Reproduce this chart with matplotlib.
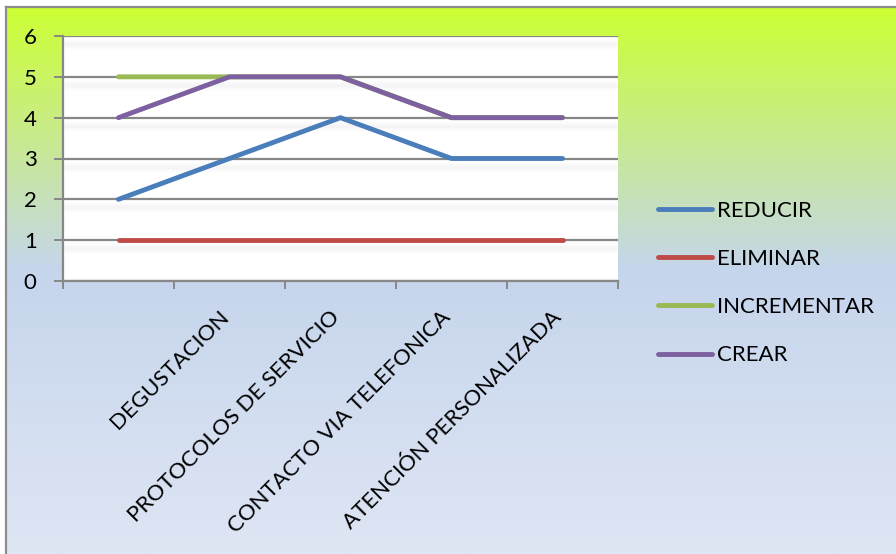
import numpy as np
import matplotlib
matplotlib.use("Agg")
import matplotlib.pyplot as plt
from matplotlib.colors import LinearSegmentedColormap
from matplotlib.transforms import ScaledTranslation

# --- datos ---
categorias = ["", "DEGUSTACION", "PROTOCOLOS DE SERVICIO",
              "CONTACTO VIA TELEFONICA", "ATENCIÓN PERSONALIZADA"]
reducir = [2, 3, 4, 3, 3]
eliminar = [1, 1, 1, 1, 1]
incrementar = [5, 5, 5, 4, 4]
crear = [4, 5, 5, 4, 4]

series = [("REDUCIR", reducir, "#4A7EBB"),
          ("ELIMINAR", eliminar, "#BE4B48"),
          ("INCREMENTAR", incrementar, "#98B954"),
          ("CREAR", crear, "#7D60A0")]

plt.rcParams["font.family"] = ["Lato", "DejaVu Sans"]
FS = 16
GRIS = "#878787"

W, H = 896, 554
fig = plt.figure(figsize=(W / 100, H / 100), dpi=100)
fig.patch.set_facecolor("white")

# --- fondo degradado con borde ---
bg = fig.add_axes([0, 0, 1, 1], zorder=-10)
bg.set_xlim(0, W)
bg.set_ylim(H, 0)
bg.axis("off")
cmap = LinearSegmentedColormap.from_list(
    "fondo", [(0.0, "#CCFF33"), (0.48, "#C5D5EC"), (1.0, "#DFE6F4")])
grad = np.linspace(0, 1, 400).reshape(-1, 1)
bg.imshow(grad, cmap=cmap, aspect="auto", extent=[6, W, H, 7.5], zorder=0)
bg.plot([5.8, 5.8], [6.5, H], color="#8C8C8C", lw=1.6, zorder=1)
bg.plot([5.8, W], [6.5, 6.5], color="#8C8C8C", lw=1.6, zorder=1)

# --- area de trazado ---
ax = fig.add_axes([63 / W, 1 - 281 / H, (618 - 63) / W, (281 - 36) / H])
ax.set_facecolor("white")
x = np.arange(len(categorias))
ax.set_xlim(-0.5, len(categorias) - 0.5)
ax.set_ylim(0, 6)
ax.set_yticks(range(0, 7))

# sombra difusa bajo cada linea de division
for gy in range(1, 7):
    for d in range(-6, 7):
        off = ScaledTranslation(0, -(8 + d) / 100, fig.dpi_scale_trans)
        ax.plot([-0.49, len(categorias) - 0.51], [gy, gy],
                transform=ax.transData + off, color="black",
                alpha=0.03 * np.exp(-d ** 2 / 12.0), lw=1.0,
                solid_capstyle="butt", zorder=0.5)

ax.grid(axis="y", color=GRIS, lw=1.6, zorder=1)
ax.set_axisbelow(True)

for nombre, vals, color in series:
    ax.plot(x, vals, color=color, lw=3.5, solid_capstyle="round",
            solid_joinstyle="round", label=nombre, zorder=3)

for s in ["top", "right"]:
    ax.spines[s].set_visible(False)
ax.spines["left"].set_color(GRIS)
ax.spines["left"].set_linewidth(1.6)
ax.spines["bottom"].set_color(GRIS)
ax.spines["bottom"].set_linewidth(1.6)

ax.tick_params(axis="y", length=6.5, width=1.4, color=GRIS, pad=12.5,
               labelsize=FS)
ax.set_xticks(x)
ax.set_xticklabels([])
ax.tick_params(axis="x", which="major", length=0)
ax.set_xticks(np.arange(-0.5, len(categorias)), minor=True)
ax.tick_params(axis="x", which="minor", length=5.5, width=1.4, color=GRIS,
               direction="out")

# etiquetas de categoria giradas 45 grados
desplaz = ScaledTranslation(-4 / 100, -33 / 100, fig.dpi_scale_trans)
for xi, etiqueta in zip(x, categorias):
    ax.text(xi, 0, etiqueta, transform=ax.get_xaxis_transform() + desplaz,
            rotation=45, rotation_mode="anchor", ha="right", va="center",
            fontsize=FS)

fig.legend(loc="center left", bbox_to_anchor=(658 / W, 1 - 283 / H),
           frameon=False, fontsize=FS, handlelength=2.45, handletextpad=0.2,
           labelspacing=1.27, borderpad=0, borderaxespad=0)

fig.savefig("out.png", dpi=100)
